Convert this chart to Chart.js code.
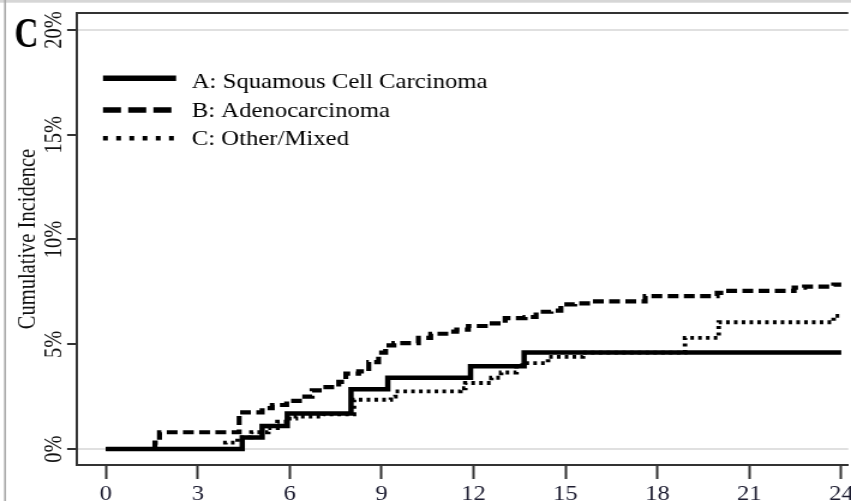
<!DOCTYPE html>
<html>
<head>
<meta charset="utf-8">
<script src="https://cdn.jsdelivr.net/npm/chart.js@4.4.0/dist/chart.umd.min.js"></script>
<style>
  html, body { margin: 0; padding: 0; background: #fff; overflow: hidden; }
  /* the figure is drawn narrow and widened, like the exported panel */
  #wrap { width: 709px; height: 501px; transform: scaleX(1.2003); transform-origin: 0 0; }
</style>
</head>
<body>
<div id="wrap"><canvas id="incidenceChart"></canvas></div>
<script>
// Cumulative incidence (%) by months since diagnosis, one step curve per histology
const seriesLabels = ['A: Squamous Cell Carcinoma', 'B: Adenocarcinoma', 'C: Other/Mixed'];

const squamousMonths = [0, 4.45, 5.1, 5.92, 8.0, 9.2, 11.9, 13.65, 24];
const squamousPct    = [0, 0.55, 1.1, 1.7, 2.85, 3.4, 3.95, 4.6, 4.6];

const adenoMonths = [0, 1.6, 1.75, 4.35, 5.1, 5.43, 5.9, 6.4, 6.73, 7.05, 7.6, 7.83, 8.25, 8.58, 8.9, 9.13,
                     9.4, 10.2, 10.6, 11.2, 11.45, 11.83, 12.38, 13.03, 13.68, 14.04, 14.53, 14.85, 15.3,
                     15.83, 17.6, 19.95, 20.2, 22.46, 22.8, 23.75, 24];
const adenoPct    = [0, 0.3, 0.8, 1.75, 1.95, 2.1, 2.3, 2.5, 2.8, 2.95, 3.2, 3.6, 3.7, 4.15, 4.6, 4.95,
                     5.05, 5.3, 5.5, 5.6, 5.7, 5.87, 6.0, 6.25, 6.3, 6.55, 6.6, 6.9, 6.95,
                     7.05, 7.3, 7.45, 7.55, 7.7, 7.75, 7.85, 7.85];

const otherMonths = [0, 3.9, 4.3, 4.75, 5.3, 5.6, 5.9, 6.2, 7.1, 8.1, 9.3, 9.45, 11.57, 11.73, 12.58,
                     12.9, 13.4, 13.6, 14.43, 15.57, 18.9, 20.0, 23.75, 24];
const otherPct    = [0, 0.3, 0.55, 0.8, 1.0, 1.3, 1.45, 1.55, 1.65, 2.35, 2.5, 2.75, 2.9, 3.15, 3.4,
                     3.65, 4.0, 4.1, 4.4, 4.6, 5.3, 6.05, 6.35, 6.35];

const monthTicks = [0, 3, 6, 9, 12, 15, 18, 21, 24];
const pctTicks = [0, 5, 10, 15, 20];

const SERIF = '"Liberation Serif", "Times New Roman", serif';
const INK = '#111';
const AXIS = '#333';

function toPoints(xs, ys) {
    return xs.map((x, i) => ({ x: x, y: ys[i] }));
}

// legend swatches, y tick labels, axis title and panel letter
const decorations = {
    id: 'decorations',
    beforeDraw(chart) {
        const ctx = chart.ctx;
        ctx.save();
        ctx.fillStyle = '#fff';
        ctx.fillRect(0, 0, chart.width, chart.height);
        ctx.restore();
    },
    afterDraw(chart) {
        const ctx = chart.ctx;
        const area = chart.chartArea;
        const yScale = chart.scales.y;

        ctx.save();

        // outer page edge
        ctx.fillStyle = '#d6d6d6';
        ctx.fillRect(0, 0, chart.width, 2.7);
        ctx.fillStyle = '#a9a9a9';
        ctx.fillRect(3.4, 0, 1.6, chart.height);

        // top of the plot frame
        ctx.strokeStyle = AXIS;
        ctx.lineWidth = 2;
        ctx.beginPath();
        ctx.moveTo(area.left - 1, area.top);
        ctx.lineTo(area.right, area.top);
        ctx.stroke();

        // rotated y tick labels
        ctx.fillStyle = INK;
        ctx.font = '20.5px ' + SERIF;
        ctx.textAlign = 'center';
        ctx.textBaseline = 'middle';
        yScale.ticks.forEach(t => {
            const py = yScale.getPixelForValue(t.value);
            ctx.save();
            ctx.translate(46, py);
            ctx.rotate(-Math.PI / 2);
            ctx.fillText(t.value + '%', 0, 0);
            ctx.restore();
        });

        // y axis title
        ctx.save();
        ctx.translate(23.5, (area.top + area.bottom) / 2);
        ctx.rotate(-Math.PI / 2);
        ctx.fillText('Cumulative Incidence', 0, 0);
        ctx.restore();

        // panel letter
        ctx.save();
        ctx.translate(12, 46.5);
        ctx.scale(0.66, 1);
        ctx.font = 'bold 42px ' + SERIF;
        ctx.textAlign = 'left';
        ctx.textBaseline = 'alphabetic';
        ctx.fillStyle = '#000';
        ctx.fillText('C', 0, 0);
        ctx.restore();

        // legend
        const rows = [
            { lineY: 78.3, textY: 88.3, width: 5.5, dash: [] },
            { lineY: 110, textY: 116.6, width: 5.5, dash: [15, 6] },
            { lineY: 138.3, textY: 145, width: 4.5, dash: [4, 7] }
        ];
        rows.forEach((row, i) => {
            ctx.strokeStyle = '#000';
            ctx.lineWidth = row.width;
            ctx.lineCap = 'butt';
            ctx.setLineDash(row.dash);
            ctx.beginPath();
            ctx.moveTo(85.8, row.lineY);
            ctx.lineTo(146.7, row.lineY);
            ctx.stroke();
            ctx.setLineDash([]);
            ctx.fillStyle = '#000';
            ctx.font = '20.6px ' + SERIF;
            ctx.textAlign = 'left';
            ctx.textBaseline = 'alphabetic';
            ctx.fillText(chart.data.datasets[i].label, 159.7, row.textY);
        });

        ctx.restore();
    }
};

const ctx = document.getElementById('incidenceChart').getContext('2d');

new Chart(ctx, {
    type: 'line',
    data: {
        datasets: [
            {
                label: seriesLabels[0],
                data: toPoints(squamousMonths, squamousPct),
                borderColor: '#000',
                borderWidth: 4.5,
                stepped: true,
                pointRadius: 0
            },
            {
                label: seriesLabels[1],
                data: toPoints(adenoMonths, adenoPct),
                borderColor: '#000',
                borderWidth: 4.2,
                borderDash: [9, 4.5],
                stepped: true,
                pointRadius: 0
            },
            {
                label: seriesLabels[2],
                data: toPoints(otherMonths, otherPct),
                borderColor: '#000',
                borderWidth: 3.8,
                borderDash: [3, 3.5],
                stepped: true,
                pointRadius: 0
            }
        ]
    },
    options: {
        responsive: true,
        maintainAspectRatio: false,
        animation: false,
        layout: { padding: { top: 13, left: 0, right: 0, bottom: 0 } },
        plugins: {
            legend: { display: false },
            tooltip: { enabled: false }
        },
        scales: {
            x: {
                type: 'linear',
                min: -0.94,
                max: 24.23,
                afterBuildTicks: s => { s.ticks = monthTicks.map(v => ({ value: v })); },
                afterFit: s => {
                    s.height = 36;
                    s.paddingLeft = 0;
                    s.paddingRight = 0;
                },
                ticks: {
                    autoSkip: false,
                    maxRotation: 0,
                    padding: 3,
                    color: '#1c1c30',
                    font: { family: SERIF, size: 20.5 }
                },
                grid: {
                    drawOnChartArea: false,
                    tickLength: 14,
                    tickWidth: 2,
                    tickColor: AXIS
                },
                border: { color: AXIS, width: 2 }
            },
            y: {
                type: 'linear',
                min: -0.764,
                max: 20.81,
                afterBuildTicks: s => { s.ticks = pctTicks.map(v => ({ value: v })); },
                afterFit: s => {
                    s.width = 64.2;
                    s.paddingTop = 0;
                    s.paddingBottom = 0;
                },
                ticks: { display: false },
                grid: {
                    color: c => (c.tick && (c.tick.value === 0 || c.tick.value === 20)) ? '#e0e0e0' : 'rgba(0,0,0,0)',
                    lineWidth: 2,
                    tickLength: 8.3,
                    tickWidth: 2,
                    tickColor: AXIS
                },
                border: { color: AXIS, width: 2 }
            }
        }
    },
    plugins: [decorations]
});
</script>
</body>
</html>
